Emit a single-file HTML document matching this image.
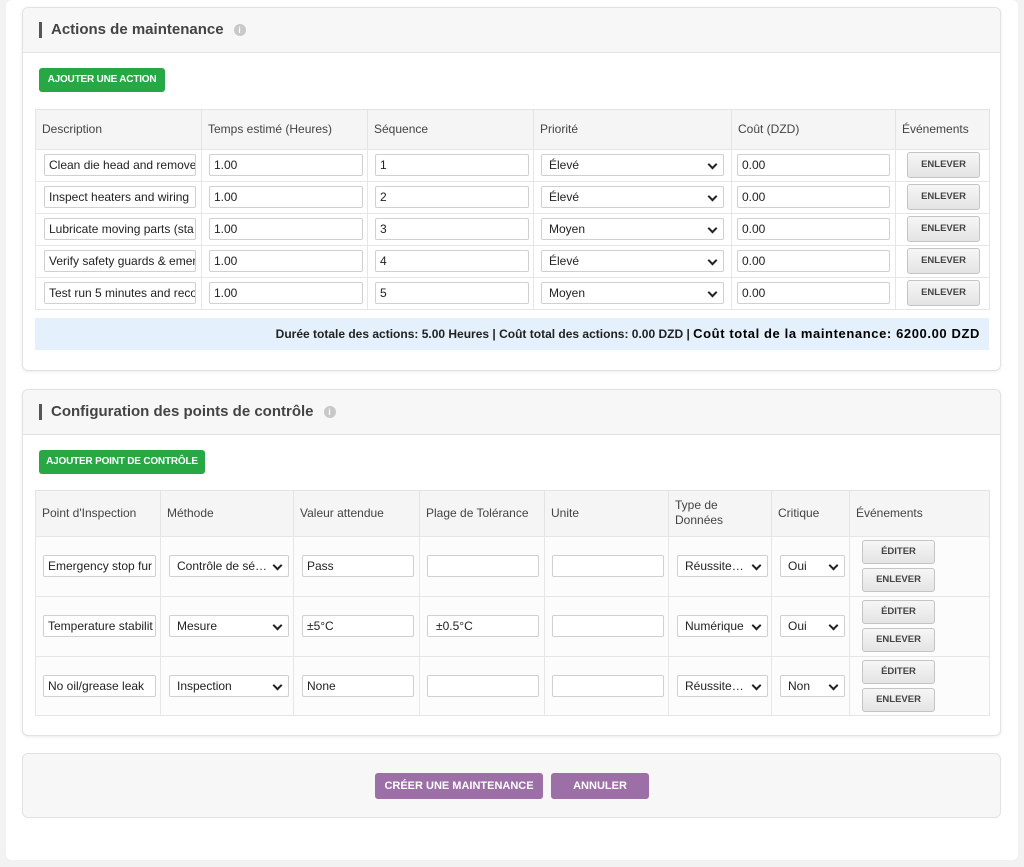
<!DOCTYPE html>
<html><head><meta charset="utf-8"><style>
*{box-sizing:border-box;margin:0;padding:0}
body{width:1024px;height:867px;background:#f2f2f2;font-family:"Liberation Sans",Arial,sans-serif;position:relative;overflow:hidden;color:#333}
.abs{position:absolute}
.wrap{left:6px;top:0;width:1012px;height:860px;background:#fff;border-radius:6px}
.card{left:22px;width:979px;background:#fff;border:1px solid #e2e2e2;border-radius:6px;box-shadow:0 1px 3px rgba(0,0,0,.08)}
.hdr{left:0;top:0;width:100%;height:45px;background:#f7f7f7;border-bottom:1px solid #e3e3e3;border-radius:6px 6px 0 0}
.title{font-size:15px;font-weight:bold;color:#444;left:16px;top:14px;border-left:3px solid #555;padding-left:9px;line-height:16px}
.info{display:inline-block;width:12px;height:12px;border-radius:50%;background:#c8c8c8;color:#fff;font-size:9px;text-align:center;line-height:12px;margin-left:10px;vertical-align:1px}
.gbtn{background:#28a745;color:#fff;font-size:10px;font-weight:bold;text-align:center;border-radius:3px;line-height:24px;height:24px;letter-spacing:-0.2px}
.th{background:#f5f5f5;border:1px solid #e3e3e3}
.cell{border:1px solid #e6e6e6;background:#fff}
.t{font-size:12px;color:#444}
.inp{border:1px solid #d0d0d0;border-radius:2px;background:#fff;height:22px;font-size:12px;line-height:20px;padding-left:4px;color:#222;white-space:nowrap;overflow:hidden}
.sel{border:1px solid #d0d0d0;border-radius:2px;background:#fff;height:22px;font-size:12px;line-height:20px;padding-left:7px;color:#222}
.sel:after{content:"";position:absolute;right:7px;top:6px;width:5px;height:5px;border-right:2px solid #222;border-bottom:2px solid #222;transform:rotate(45deg)}
.btn{background:linear-gradient(#f6f6f6,#e4e4e4);border:1px solid #c4c4c4;border-radius:3px;font-size:9.5px;font-weight:bold;color:#444;text-align:center;line-height:22px}
.pbtn{background:#9c6fa6;color:#fff;font-size:11px;font-weight:bold;text-align:center;line-height:26px;height:26px;border-radius:3px}
</style></head><body>
<div class="abs wrap"></div>

<div class="abs card" style="top:7px;height:364px">
 <div class="abs hdr"></div>
 <div class="abs title">Actions de maintenance<span class="info">i</span></div>
</div>
<div class="abs gbtn" style="left:39px;top:68px;width:126px">AJOUTER UNE ACTION</div>

<div class="abs card" style="top:389px;height:347px">
 <div class="abs hdr"></div>
 <div class="abs title">Configuration des points de contrôle<span class="info">i</span></div>
</div>
<div class="abs gbtn" style="left:39px;top:450px;width:166px">AJOUTER POINT DE CONTRÔLE</div>

<div class="abs" style="left:22px;top:753px;width:979px;height:65px;background:#f7f7f7;border:1px solid #e2e2e2;border-radius:6px"></div>
<div class="abs pbtn" style="left:375px;top:773px;width:168px">CRÉER UNE MAINTENANCE</div>
<div class="abs pbtn" style="left:551px;top:773px;width:98px">ANNULER</div>

<div id="t1"></div><div id="t2"></div>
<div class="abs" style="left:35px;top:318px;width:954px;height:32px;background:#e4f0fb;font-size:12px;font-weight:bold;color:#222;text-align:right;line-height:32px;padding-right:9px;white-space:nowrap">Durée totale des actions: 5.00 Heures | Coût total des actions: 0.00 DZD | <span style="font-size:13px;letter-spacing:0.6px;color:#000">Coût total de la maintenance: 6200.00 DZD</span></div>

<script>
var h='';
var c1=[35,201,367,533,731,895,989],hd1=['Description','Temps estimé (Heures)','Séquence','Priorité','Coût (DZD)','Événements'];
for(var i=0;i<6;i++){h+='<div class="abs th" style="left:'+c1[i]+'px;top:109px;width:'+(c1[i+1]-c1[i]+1)+'px;height:41px"></div><div class="abs t" style="left:'+(c1[i]+7)+'px;top:122px">'+hd1[i]+'</div>';}
var d=['Clean die head and remove','Inspect heaters and wiring','Lubricate moving parts (sta','Verify safety guards & emer','Test run 5 minutes and reco'],p=['Élevé','Élevé','Moyen','Élevé','Moyen'];
for(var r=0;r<5;r++){var y=149+r*32;
for(var i=0;i<6;i++)h+='<div class="abs cell" style="left:'+c1[i]+'px;top:'+y+'px;width:'+(c1[i+1]-c1[i]+1)+'px;height:33px"></div>';
h+='<div class="abs inp" style="left:44px;top:'+(y+5)+'px;width:152px">'+d[r]+'</div>';
h+='<div class="abs inp" style="left:209px;top:'+(y+5)+'px;width:154px">1.00</div>';
h+='<div class="abs inp" style="left:375px;top:'+(y+5)+'px;width:154px">'+(r+1)+'</div>';
h+='<div class="abs sel" style="left:541px;top:'+(y+5)+'px;width:183px">'+p[r]+'</div>';
h+='<div class="abs inp" style="left:737px;top:'+(y+5)+'px;width:153px">0.00</div>';
h+='<div class="abs btn" style="left:907px;top:'+(y+3)+'px;width:73px;height:26px;line-height:24px">ENLEVER</div>';}
document.getElementById('t1').innerHTML=h;h='';
var c2=[35,160,293,419,544,668,771,849,989],hd2=["Point d'Inspection",'Méthode','Valeur attendue','Plage de Tolérance','Unite','Type de<br>Données','Critique','Événements'];
for(var i=0;i<8;i++){h+='<div class="abs th" style="left:'+c2[i]+'px;top:490px;width:'+(c2[i+1]-c2[i]+1)+'px;height:47px"></div><div class="abs t" style="left:'+(c2[i]+7)+'px;top:'+(i==5?498:506)+'px;line-height:15px">'+hd2[i]+'</div>';}
var a=['Emergency stop fur','Temperature stabilit','No oil/grease leak'],m=['Contrôle de sé…','Mesure','Inspection'],v=['Pass','±5°C','None'],tl=['','±0.5°C',''],ty=['Réussite…','Numérique','Réussite…'],cr=['Oui','Oui','Non'];
for(var r=0;r<3;r++){var y=536+r*60;
for(var i=0;i<8;i++)h+='<div class="abs cell" style="left:'+c2[i]+'px;top:'+y+'px;width:'+(c2[i+1]-c2[i]+1)+'px;height:'+(r==2?60:61)+'px;background:#fcfcfc"></div>';
var iy=y+19;
h+='<div class="abs inp" style="left:43px;top:'+iy+'px;width:113px">'+a[r]+'</div>';
h+='<div class="abs sel" style="left:169px;top:'+iy+'px;width:120px">'+m[r]+'</div>';
h+='<div class="abs inp" style="left:302px;top:'+iy+'px;width:112px;padding-left:4px">'+v[r]+'</div>';
h+='<div class="abs inp" style="left:427px;top:'+iy+'px;width:112px;padding-left:8px">'+tl[r]+'</div>';
h+='<div class="abs inp" style="left:552px;top:'+iy+'px;width:112px"></div>';
h+='<div class="abs sel" style="left:677px;top:'+iy+'px;width:91px">'+ty[r]+'</div>';
h+='<div class="abs sel" style="left:780px;top:'+iy+'px;width:65px">'+cr[r]+'</div>';
h+='<div class="abs btn" style="left:862px;top:'+(y+4)+'px;width:73px;height:24px">ÉDITER</div>';
h+='<div class="abs btn" style="left:862px;top:'+(y+32)+'px;width:73px;height:24px">ENLEVER</div>';}
document.getElementById('t2').innerHTML=h;
</script>
</body></html>
